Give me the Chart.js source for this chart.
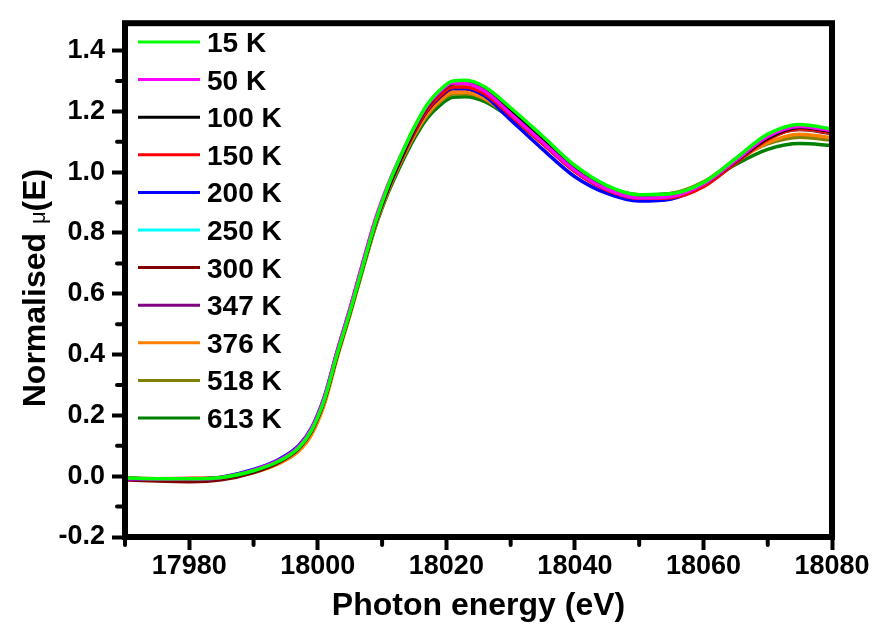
<!DOCTYPE html>
<html>
<head>
<meta charset="utf-8">
<script src="https://cdn.jsdelivr.net/npm/chart.js@4.4.1/dist/chart.umd.min.js"></script>
<style>
  html, body { margin: 0; padding: 0; background: #fff; }
  #wrap { width: 877px; height: 627px; }
</style>
</head>
<body>
<div id="wrap"><canvas id="xanes" width="877" height="627"></canvas></div>
<script>
// Photon energy grid (eV)
const energy = [17970, 17975, 17980, 17985, 17990, 17994, 17997, 17999, 18001, 18003, 18005, 18007, 18009, 18011, 18013, 18015,
                18017, 18019, 18021, 18023, 18026, 18030, 18035, 18040, 18045, 18050, 18055, 18060, 18065, 18070, 18075, 18080];

// Normalised absorption for each temperature
const mu15K  = [-0.006,-0.008,-0.008,-0.004,0.018,0.050,0.093,0.150,0.250,0.400,0.540,0.690,0.838,0.958,1.058,1.148,1.222,1.270,1.300,1.302,1.280,1.212,1.118,1.022,0.956,0.926,0.929,0.966,1.045,1.125,1.157,1.142];
const mu50K  = [-0.008,-0.009,-0.009,-0.004,0.020,0.053,0.097,0.156,0.258,0.410,0.552,0.703,0.848,0.963,1.058,1.145,1.218,1.265,1.293,1.292,1.266,1.192,1.098,1.006,0.944,0.915,0.920,0.960,1.038,1.117,1.150,1.136];
const mu100K = [-0.007,-0.009,-0.009,-0.005,0.017,0.049,0.092,0.149,0.249,0.399,0.539,0.689,0.836,0.952,1.050,1.140,1.214,1.263,1.292,1.294,1.274,1.205,1.105,1.008,0.946,0.917,0.921,0.960,1.036,1.112,1.148,1.134];
const mu150K = [-0.006,-0.008,-0.007,-0.004,0.019,0.051,0.094,0.151,0.251,0.401,0.541,0.691,0.836,0.951,1.047,1.133,1.205,1.252,1.280,1.280,1.257,1.187,1.094,1.002,0.941,0.914,0.916,0.952,1.030,1.108,1.143,1.130];
const mu200K = [-0.008,-0.009,-0.009,-0.003,0.022,0.056,0.100,0.158,0.260,0.410,0.550,0.700,0.843,0.956,1.050,1.135,1.205,1.250,1.277,1.276,1.250,1.172,1.075,0.985,0.930,0.905,0.912,0.955,1.032,1.110,1.145,1.132];
const mu250K = [-0.007,-0.009,-0.009,-0.004,0.020,0.053,0.096,0.153,0.254,0.404,0.544,0.694,0.839,0.954,1.050,1.138,1.210,1.257,1.284,1.284,1.262,1.192,1.099,1.008,0.950,0.923,0.926,0.962,1.037,1.112,1.143,1.130];
const mu300K = [-0.012,-0.016,-0.018,-0.012,0.012,0.046,0.090,0.147,0.248,0.398,0.539,0.690,0.835,0.950,1.046,1.132,1.203,1.248,1.275,1.275,1.252,1.187,1.095,1.004,0.943,0.914,0.919,0.958,1.036,1.112,1.140,1.127];
const mu347K = [-0.010,-0.013,-0.013,-0.008,0.016,0.049,0.092,0.149,0.249,0.399,0.539,0.689,0.834,0.948,1.044,1.130,1.201,1.247,1.274,1.274,1.252,1.186,1.095,1.004,0.944,0.916,0.920,0.958,1.034,1.110,1.143,1.130];
const mu376K = [-0.008,-0.010,-0.011,-0.008,0.012,0.042,0.082,0.136,0.235,0.388,0.530,0.682,0.828,0.943,1.038,1.122,1.190,1.235,1.262,1.262,1.242,1.180,1.093,1.005,0.946,0.919,0.922,0.960,1.033,1.097,1.125,1.113];
const mu518K = [-0.008,-0.010,-0.010,-0.006,0.017,0.049,0.091,0.147,0.246,0.396,0.536,0.686,0.831,0.944,1.038,1.120,1.187,1.231,1.257,1.258,1.240,1.182,1.097,1.010,0.952,0.925,0.930,0.968,1.040,1.093,1.115,1.105];
const mu613K = [-0.008,-0.010,-0.010,-0.005,0.018,0.050,0.093,0.150,0.248,0.395,0.533,0.680,0.822,0.935,1.028,1.110,1.177,1.220,1.246,1.248,1.232,1.178,1.095,1.008,0.952,0.926,0.930,0.962,1.025,1.075,1.094,1.088];

const seriesLabels = ['15 K', '50 K', '100 K', '150 K', '200 K', '250 K', '300 K', '347 K', '376 K', '518 K', '613 K'];
const seriesData = [mu15K, mu50K, mu100K, mu150K, mu200K, mu250K, mu300K, mu347K, mu376K, mu518K, mu613K];
const seriesColors = ['#00ff00', '#ff00ff', '#000000', '#ff0000', '#0000ff', '#00ffff', '#800000', '#800080', '#ff8000', '#808000', '#008000'];

// Axis ticks
const xTicks = [17980, 18000, 18020, 18040, 18060, 18080];
const xMinor = [17970, 17990, 18010, 18030, 18050, 18070];
const yTicks = [-0.2, 0.0, 0.2, 0.4, 0.6, 0.8, 1.0, 1.2, 1.4];
const yMinor = [-0.1, 0.1, 0.3, 0.5, 0.7, 0.9, 1.1, 1.3];

const FONT = '"Liberation Sans", Arial, sans-serif';

// Frame, minor ticks, legend and rotated y title
const framePlugin = {
    id: 'frame',
    afterDraw(chart) {
        const { ctx, chartArea: a, scales } = chart;
        ctx.save();

        // minor ticks
        ctx.strokeStyle = '#000';
        ctx.lineWidth = 4;
        ctx.lineCap = 'round';
        yMinor.forEach(v => {
            const y = scales.y.getPixelForValue(v);
            ctx.beginPath();
            ctx.moveTo(a.left - 8, y);
            ctx.lineTo(a.left, y);
            ctx.stroke();
        });
        xMinor.forEach(v => {
            const x = scales.x.getPixelForValue(v);
            ctx.beginPath();
            ctx.moveTo(x, a.bottom);
            ctx.lineTo(x, a.bottom + 8);
            ctx.stroke();
        });

        // box
        ctx.lineCap = 'butt';
        ctx.lineWidth = 6;
        ctx.strokeRect(a.left, a.top, a.right - a.left, a.bottom - a.top);

        // legend
        const rowGap = 37.6;
        chart.data.datasets.forEach((ds, i) => {
            const y = 42 + i * rowGap;
            ctx.strokeStyle = ds.borderColor;
            ctx.lineWidth = 3;
            ctx.beginPath();
            ctx.moveTo(138, y);
            ctx.lineTo(200, y);
            ctx.stroke();
            ctx.fillStyle = '#000';
            ctx.font = 'bold 28px ' + FONT;
            ctx.textAlign = 'left';
            ctx.textBaseline = 'alphabetic';
            ctx.fillText(ds.label, 207, y + 10);
        });

        // y axis title with a smaller mu
        const parts = [
            { t: 'Normalised ', f: 'bold 32px ' + FONT },
            { t: 'μ', f: '22px ' + FONT },
            { t: '(E)', f: 'bold 32px ' + FONT }
        ];
        let total = 0;
        parts.forEach(p => { ctx.font = p.f; p.w = ctx.measureText(p.t).width; total += p.w; });
        ctx.translate(45, 288);
        ctx.rotate(-Math.PI / 2);
        ctx.fillStyle = '#000';
        ctx.textAlign = 'left';
        ctx.textBaseline = 'alphabetic';
        let px = -total / 2;
        parts.forEach(p => { ctx.font = p.f; ctx.fillText(p.t, px, 0); px += p.w; });

        ctx.restore();
    }
};

const datasets = seriesLabels.map((label, i) => ({
    label,
    data: energy.map((e, j) => ({ x: e, y: seriesData[i][j] })),
    borderColor: seriesColors[i],
    backgroundColor: seriesColors[i],
    borderWidth: 3.5,
    pointRadius: 0,
    cubicInterpolationMode: 'monotone',
    fill: false
}));

new Chart(document.getElementById('xanes'), {
    type: 'line',
    data: { datasets },
    options: {
        responsive: false,
        animation: false,
        devicePixelRatio: 1,
        layout: { padding: { top: 15, right: 45, bottom: 0, left: 0 } },
        plugins: {
            legend: { display: false },
            tooltip: { enabled: false }
        },
        scales: {
            x: {
                type: 'linear',
                min: 17970,
                max: 18080,
                afterFit: s => { s.height = 90; },
                afterBuildTicks: s => { s.ticks = xTicks.map(v => ({ value: v })); },
                border: { display: false },
                grid: { drawOnChartArea: false, drawTicks: true, tickLength: 13, tickWidth: 4, tickColor: '#000' },
                ticks: {
                    color: '#000',
                    padding: 0,
                    maxRotation: 0,
                    font: { family: FONT, size: 27, weight: 'bold' },
                    callback: v => String(v)
                },
                title: {
                    display: true,
                    text: 'Photon energy (eV)',
                    color: '#000',
                    font: { family: FONT, size: 32, weight: 'bold' },
                    padding: { top: 0, bottom: 2 }
                }
            },
            y: {
                type: 'linear',
                min: -0.2,
                max: 1.49,
                afterFit: s => { s.width = 125; },
                afterBuildTicks: s => { s.ticks = yTicks.map(v => ({ value: v })); },
                border: { display: false },
                grid: { drawOnChartArea: false, drawTicks: true, tickLength: 13, tickWidth: 4, tickColor: '#000' },
                ticks: {
                    color: '#000',
                    padding: 7,
                    font: { family: FONT, size: 27, weight: 'bold' },
                    callback: v => v.toFixed(1)
                }
            }
        }
    },
    plugins: [framePlugin]
});
</script>
</body>
</html>
